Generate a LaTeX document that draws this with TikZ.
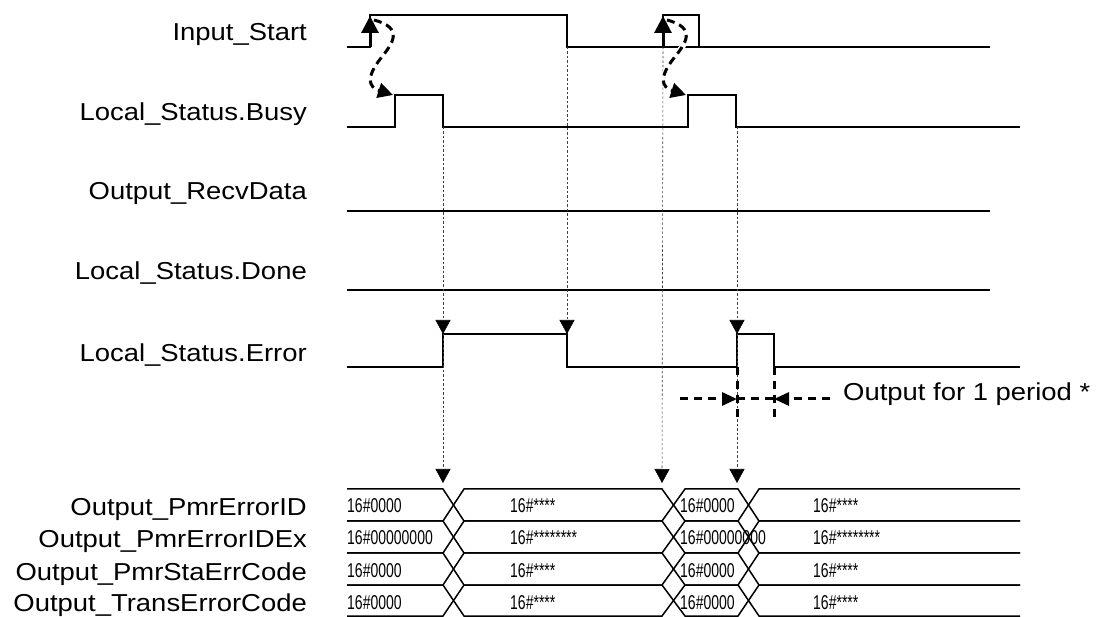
\documentclass[tikz,border=0pt]{standalone}
\usepackage{fontspec}
\setmainfont{Liberation Sans}
\newfontfamily\labelfont[FakeStretch=1.12]{Liberation Sans}
\newfontfamily\busfont[FakeStretch=0.7]{Liberation Sans}
\usetikzlibrary{arrows.meta}

\begin{document}
\begin{tikzpicture}[x=1pt,y=-1pt,
    wave/.style={line width=1.8pt},
    bus/.style={line width=1.5pt},
    guide/.style={line width=0.6pt,black!75,dash pattern=on 2.5pt off 2pt},
    downtip/.style={-{Triangle[length=14pt,width=15pt,black]}},
    uptip/.style={line width=3pt,-{Triangle[length=17pt,width=17pt]}},
    cause/.style={line width=3pt,dash pattern=on 8pt off 5pt,-{Triangle[length=15pt,width=15pt]},
      preaction={draw=white,solid,line width=6pt,-}},
    spanline/.style={line width=3pt,dash pattern=on 8pt off 6pt},
    spantip/.style={-{Triangle[length=15pt,width=13pt]}},
    siglabel/.style={anchor=base east,inner sep=0pt,font=\labelfont\fontsize{24.5}{28}\selectfont},
    busval/.style={anchor=base west,inner sep=0pt,font=\busfont\fontsize{20}{22}\selectfont}]
  \useasboundingbox (0,0) rectangle (1096,617);

  % signal names
  \foreach \n/\txt/\yb in {start/Input\_Start/41, busy/Local\_Status.Busy/121,
      recv/Output\_RecvData/200, done/Local\_Status.Done/280, error/Local\_Status.Error/362,
      errid/Output\_PmrErrorID/516, errex/Output\_PmrErrorIDEx/548,
      sta/Output\_PmrStaErrCode/580, trans/Output\_TransErrorCode/612}
    \node[siglabel] (lbl-\n) at (307,\yb) {\txt};

  % waveforms
  \draw[wave] (347,47) -| (370,15) -| (567,47) -| (663,15) -| (699,47);
  \draw[wave] (663,47) -- (990,47);
  \draw[wave] (347,127) -| (395,95) -| (443,127) -| (688,95) -| (736,127) -- (1020,127);
  \draw[wave] (347,211) -- (990,211);
  \draw[wave] (347,290) -- (990,290);
  \draw[wave] (347,367) -| (443,334) -| (567,367) -| (737,334) -| (774,367) -- (1020,367);

  % edges
  \coordinate (busyA) at (443,127);
  \coordinate (startF) at (567,47);
  \coordinate (startB) at (663,47);
  \coordinate (busyB) at (737,127);
  \coordinate (errR1) at (443,334);
  \coordinate (errF1) at (567,334);
  \coordinate (errR2) at (737,334);
  \coordinate (busT1) at (443,483);
  \coordinate (busT2) at (662,483);
  \coordinate (busT3) at (737,483);

  \draw[guide,downtip] (busyA) -- (errR1);
  \draw[guide,downtip] (errR1) -- (busT1);
  \draw[guide,downtip] (startF) -- (errF1);
  \draw[guide,downtip] (startB) -- (busT2);
  \draw[guide,downtip] (busyB) -- (errR2);
  \draw[guide,downtip] (errR2) -- (busT3);

  % Start -> Busy
  \foreach \dx in {0,293}{
    \draw[cause] (\dx+374,20) .. controls (\dx+404,28) and (\dx+393,43) .. (\dx+381,58)
      .. controls (\dx+366,77) and (\dx+368,87) .. (\dx+393,95);
    \draw[uptip] (\dx+370,47) -- (\dx+370,16);
  }

  % one period
  \coordinate (spanA) at (737,399);
  \coordinate (spanB) at (774,399);
  \coordinate (spanL) at (680,399);
  \coordinate (spanR) at (830,399);
  \draw[spanline] (737,367) -- (737,417);
  \draw[spanline] (774,367) -- (774,417);
  \draw[spanline] (spanA) -- (spanB);
  \draw[spanline,spantip] (spanL) -- (spanA);
  \draw[spanline,spantip] (spanR) -- (spanB);
  \node[siglabel,anchor=base west] (period) at (843,401) {Output for 1 period *};

  % bus values
  \foreach \t/\b in {489/521,521/553,553/585,585/616}{
    \draw[bus] (347,\t) -- (443,\t) -- (464,\b) -- (662,\b) -- (685,\t) -- (738,\t) -- (759,\b) -- (1020,\b);
    \draw[bus] (347,\b) -- (443,\b) -- (464,\t) -- (662,\t) -- (685,\b) -- (738,\b) -- (759,\t) -- (1020,\t);
  }
  \foreach \r/\z/\s in {1/0000/****,2/00000000/********,3/0000/****,4/0000/****}{
    \node[busval] (v\r a) at (347,481+32*\r) {16\#\z};
    \node[busval] (v\r b) at (510,481+32*\r) {16\#\s};
    \node[busval] (v\r c) at (680,481+32*\r) {16\#\z};
    \node[busval] (v\r d) at (813,481+32*\r) {16\#\s};
  }
\end{tikzpicture}
\end{document}
